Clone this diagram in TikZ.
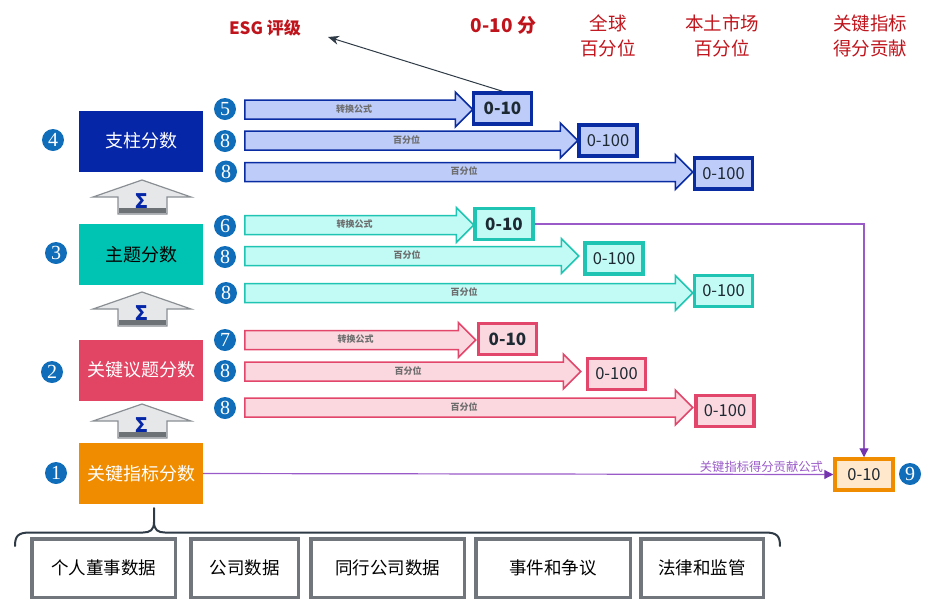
\documentclass[tikz,border=0pt]{standalone}
\usepackage{fontspec}
\setmainfont{Noto Sans CJK SC}
\newfontfamily\numfont{Liberation Serif}
\usetikzlibrary{shapes.arrows,arrows.meta}

\definecolor{pillarblue}{HTML}{0626A8}
\definecolor{themeteal}{HTML}{00C4B3}
\definecolor{issuepink}{HTML}{E24463}
\definecolor{kpiorange}{HTML}{EF8C00}
\definecolor{numblue}{HTML}{0F6DBA}
\definecolor{bluefill}{HTML}{BECCF9}
\definecolor{blueline}{HTML}{0A2CA2}
\definecolor{tealfill}{HTML}{C2FAF5}
\definecolor{tealline}{HTML}{1FC4B2}
\definecolor{pinkfill}{HTML}{FBD8DF}
\definecolor{pinkline}{HTML}{E2466A}
\definecolor{orangefill}{HTML}{FFE8CC}
\definecolor{purp}{HTML}{9A5BC8}
\definecolor{purptip}{HTML}{7434AE}
\definecolor{headred}{HTML}{C0141C}
\definecolor{labelgrey}{HTML}{6E6E6E}
\definecolor{scoretext}{HTML}{1E2A33}
\definecolor{boxgrey}{HTML}{70767B}
\definecolor{sumfill}{HTML}{E6E7E9}
\definecolor{sumline}{HTML}{8A8F93}
\definecolor{sumband}{HTML}{6D7276}
\definecolor{esgline}{HTML}{2E3A45}

\tikzset{
  flow/.style={single arrow, anchor=tail, line width=1.5pt, minimum width=34pt,
    single arrow head extend=8pt, inner xsep=0pt, inner ysep=4pt,
    text height=7.5pt, text depth=2pt, text=labelgrey,
    font=\bfseries\fontsize{9}{9}\selectfont},
  score/.style={rectangle, line width=3.5pt, minimum width=58pt, minimum height=31pt,
    inner sep=0pt, text=scoretext, font=\fontsize{16.5}{17}\selectfont},
  best/.style={font=\bfseries\fontsize{17}{17}\selectfont},
  link/.style={draw=purp, line width=1.2pt, -{Triangle[length=9pt,width=9pt,fill=purptip,color=purptip]}}
}

\begin{document}
\begin{tikzpicture}[x=1pt,y=-1pt]
\useasboundingbox (0,0) rectangle (932,614);

% header texts
\begin{scope}[every node/.style={text=headred, align=center, font=\fontsize{18.5}{25}\selectfont}]
  \node[font=\bfseries\fontsize{17}{20}\selectfont] (esg) at (265,28) {ESG 评级};
  \node[font=\bfseries\fontsize{19}{20}\selectfont] (h1) at (503.5,25) {0-10 分};
  \node (h2) at (608,35.5) {全球\\百分位};
  \node (h3) at (722,35.5) {本土市场\\百分位};
  \node (h4) at (870,35.5) {关键指标\\得分贡献};
\end{scope}

% score levels
\begin{scope}[every node/.style={rectangle, minimum width=124pt, minimum height=61pt,
    text=white, font=\fontsize{18}{20}\selectfont}]
  \node[fill=pillarblue] (4) at (141,141) {支柱分数};
  \node[fill=themeteal, text=black] (3) at (141,254.5) {主题分数};
  \node[fill=issuepink] (2) at (141,370) {关键议题分数};
  \node[fill=kpiorange] (1) at (141,473.5) {关键指标分数};
\end{scope}

% sum arrows
\foreach \y in {180,292,404} {
  \draw[fill=sumfill, draw=sumline, line width=1.2pt]
    (93,\y+17) -- (142,\y) -- (191,\y+17) -- (167,\y+17) -- (167,\y+34)
    -- (118,\y+34) -- (118,\y+17) -- cycle;
  \fill[sumband] (118.6,\y+28) rectangle (166.4,\y+33.4);
  \node[text=pillarblue, font=\bfseries\fontsize{20}{20}\selectfont] at (142,\y+21) {Σ};
}

% numbers
\begin{scope}[every node/.style={circle, fill=numblue, text=white, inner sep=0pt,
    minimum size=22pt, font=\numfont\fontsize{20}{20}\selectfont}]
  \node (n4) at (53,140) {4};
  \node (n3) at (56,253) {3};
  \node (n2) at (52,372) {2};
  \node (n1) at (56,473) {1};
  \node (n5) at (225,109) {5};
  \node (n8a) at (225,141) {8};
  \node (n8b) at (226,171.5) {8};
  \node (n6) at (225,226) {6};
  \node (n8c) at (225,257) {8};
  \node (n8d) at (226,293) {8};
  \node (n7) at (225,340) {7};
  \node (n8e) at (225,371) {8};
  \node (n8f) at (225,408) {8};
  \node (n9) at (910,474) {9};
\end{scope}

% result boxes
\node[score, best, draw=blueline, fill=bluefill] (b1) at (502.5,108.5) {0-10};
\node[score, draw=blueline, fill=bluefill] (b2) at (608,140.5) {0-100};
\node[score, draw=blueline, fill=bluefill] (b3) at (723.5,173.5) {0-100};
\node[score, best, draw=tealline, fill=tealfill] (t1) at (504,224) {0-10};
\node[score, draw=tealline, fill=tealfill] (t2) at (614,258.5) {0-100};
\node[score, draw=tealline, fill=tealfill] (t3) at (723.5,291) {0-100};
\node[score, best, draw=pinkline, fill=pinkfill] (p1) at (507.5,339) {0-10};
\node[score, draw=pinkline, fill=pinkfill] (p2) at (616.5,374) {0-100};
\node[score, draw=pinkline, fill=pinkfill] (p3) at (725,411) {0-100};
\node[score, draw=kpiorange, fill=orangefill] (o9) at (864,474.5) {0-10};

% block arrows
\begin{scope}[every node/.style={flow}]
  \node[draw=blueline, fill=bluefill, minimum height=228pt] (a5) at (244,109.5) {转换公式};
  \node[draw=blueline, fill=bluefill, minimum height=333pt] (a8a) at (244,140.5) {百分位};
  \node[draw=blueline, fill=bluefill, minimum height=448pt] (a8b) at (244,172) {百分位};
  \node[draw=tealline, fill=tealfill, minimum height=229pt] (a6) at (244,225) {转换公式};
  \node[draw=tealline, fill=tealfill, minimum height=334pt] (a8c) at (244,256) {百分位};
  \node[draw=tealline, fill=tealfill, minimum height=448pt] (a8d) at (244,293) {百分位};
  \node[draw=pinkline, fill=pinkfill, minimum height=231pt] (a7) at (244,340) {转换公式};
  \node[draw=pinkline, fill=pinkfill, minimum height=336pt] (a8e) at (244,371.5) {百分位};
  \node[draw=pinkline, fill=pinkfill, minimum height=448pt] (a8f) at (244,407.5) {百分位};
\end{scope}

% links
\coordinate (esgtip) at (328,37);
\draw[esgline, line width=1pt, -{Stealth[length=11pt,width=9pt]}] (b1.north) -- (esgtip);
\draw[link] (t1.east) -| (o9.north);
\draw[link] (1.east) -- node[pos=0.886, above, inner sep=1.5pt, text=purp,
  font=\fontsize{12.3}{13}\selectfont] {关键指标得分贡献公式} (o9.west);

% brace
\draw[draw=esgline, line width=2pt, line cap=round]
  (15,546) .. controls (15,536) and (18,532.5) .. (30,532.5) -- (143,532.5)
  .. controls (150,532.5) and (154,530) .. (154,522) -- (154,508);
\draw[draw=esgline, line width=2pt, line cap=round]
  (154,522) .. controls (154,530) and (158,532.5) .. (165,532.5) -- (765,532.5)
  .. controls (777,532.5) and (780,536) .. (780,546);

% data sources
\begin{scope}[every node/.style={rectangle, draw=boxgrey, line width=3.5pt, fill=white,
    minimum height=58.5pt, font=\fontsize{17.5}{20}\selectfont}]
  \node[minimum width=143.5pt] (d1) at (103.5,568) {个人董事数据};
  \node[minimum width=107.5pt] (d2) at (244.5,568) {公司数据};
  \node[minimum width=153.5pt] (d3) at (387.5,568) {同行公司数据};
  \node[minimum width=154.5pt] (d4) at (553,568) {事件和争议};
  \node[minimum width=122.5pt] (d5) at (702,568) {法律和监管};
\end{scope}

\end{tikzpicture}
\end{document}
